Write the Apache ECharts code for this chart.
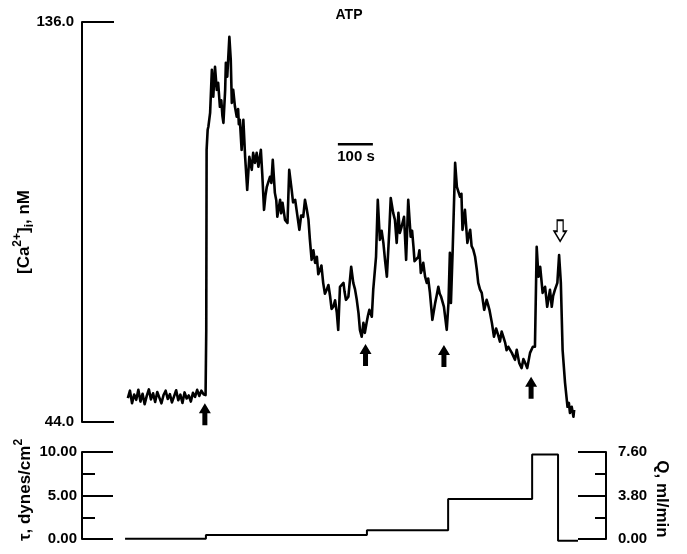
<!DOCTYPE html>
<html>
<head>
<meta charset="utf-8">
<script src="https://cdn.jsdelivr.net/npm/echarts@6/dist/echarts.min.js"></script>
<style>
html,body{margin:0;padding:0;background:#fff;}
#chart{width:687px;height:554px;}
</style>
</head>
<body>
<div id="chart"></div>
<script>
// Time in seconds (scale bar = 100 s), [Ca2+]i in nM
const caTimes = [131,137,143,149,155,161,167,173,179,185,191,197,203,209,215,221,227,233,239,245,251,257,263,269,275,281,287,293,299,305,311,317,323,329,335,341,347,
353,355,356,359,361,366,371,375,380,385,394,404,409,411,415,421,425,428,432,437,442,451,456,461,466,472,478,485,489,494,499,504,511,520,528,537,545,551,558,566,573,580,587,592,599,609,613,621,632,637,647,656,666,671,680,689,699,709,718,728,732,737,747,754,761,769,775,785,794,799,804,813,821,828,832,840,845,851,861,871,878,882,889,894,899,904,913,920,926,932,939,947,954,961,968,975,985,994,1001,1009,1018,1026,1034,1042,1047,1051,1054,1059,1066,1071,1080,1087,1094,1101,1109,1118,1123,1128,1132,1142,1149,1156,1164,1171,1177,1189,1199,1209,1218,1228,1237,1242,1249,1256,1266,1272,1280,1288,1294,1299,1304,1309,1316,1323,1329,1337,1342,1351,1358,1363,1368,1373,1380,1387,1391,1394,1399,1404,1406];
const caValues = [49.5,51.2,48.3,50.3,49.1,51.4,48.7,50.5,48.1,50.0,51.5,49.2,50.6,48.6,50.9,49.6,48.3,50.2,51.2,49.3,50.4,48.5,49.9,51.3,49.0,50.3,48.4,50.8,49.4,50.1,48.7,50.7,49.8,51.4,50.0,51.2,50.4,
50.2,65.2,106.6,111.2,111.9,115.1,125.0,118.8,125.7,120.4,116.5,112.8,120.4,126.6,123.4,132.6,127.3,117.4,120.4,116.5,114.2,113.5,106.6,113.5,105.0,97.4,105.0,102.0,105.9,103.6,105.9,102.7,106.6,92.8,98.1,100.4,104.3,96.7,91.2,95.1,94.4,90.5,89.8,102.0,97.4,95.1,95.1,88.2,91.2,95.1,90.5,81.3,80.6,82.0,79.0,76.0,74.4,72.8,70.5,69.1,65.2,75.1,76.0,72.1,72.8,79.7,76.0,72.1,65.2,63.6,66.8,66.8,69.8,68.2,74.4,82.0,95.1,85.9,85.2,77.4,88.2,95.5,92.1,90.5,85.2,92.1,88.9,91.2,81.3,95.1,86.6,84.3,80.6,82.0,78.3,80.6,76.0,73.7,67.5,71.4,75.1,72.8,70.5,65.2,71.4,82.9,71.4,83.6,103.6,98.1,95.8,88.2,92.8,85.2,88.2,83.6,82.0,79.0,76.0,73.7,69.8,72.1,69.8,66.8,63.6,64.0,64.8,62.2,61.3,59.9,58.3,60.6,57.6,56.4,57.6,56.4,59.9,61.3,61.3,84.3,77.4,79.7,73.7,75.1,70.5,74.4,70.5,74.4,76.0,82.4,76.0,60.6,53.0,47.5,48.4,46.1,47.5,45.2,46.8];
// Extra readings of the fine jitter along the trace [time, value]
const caJitter = [[389,122.0],[398,118.0],[401,114.5],[446,116.0],[448,112.5],[515,101.0],[524,96.0],[541,99.0],[555,95.0],[569,92.0],[603,94.5],[626,91.5],[642,93.0],[651,86.0],[661,83.5],[675,78.0],[684,80.0],[694,73.5],[704,75.5],[713,70.0],[723,72.0],[750,74.0],[780,74.5],[790,69.0],[808,64.5],[817,68.5],[856,88.0],[866,81.0],[908,87.5],[943,88.0],[950,81.0],[964,83.5],[971,79.0],[980,77.5],[989,77.0],[1013,73.0],[1022,73.5],[1084,96.5],[1105,87.0],[1113,84.5],[1137,74.5],[1160,71.0],[1183,65.5],[1194,62.5],[1204,63.5],[1213,60.5],[1223,61.0],[1261,58.5],[1346,73.0]];

// Shear stress step protocol (dynes/cm2)
const tauTimes = [123, 354, 814, 1046, 1286, 1360, 1417];
const tauValues = [0.03, 0.45, 1.0, 4.6, 9.7, -0.2, -0.2];

// Arrow markers (ATP additions: filled; removal: open)
const upArrowTimes = [351, 810, 1034, 1283];
const upArrowValues = [45.8, 59.4, 59.2, 51.9];
const downArrowTimes = [1366];
const downArrowValues = [88.0];

// 100 s scale bar
const scaleBarTimes = [731, 831];
const scaleBarLevel = 107.9;

// Axis ranges / ticks
const caAxis = {min: 44, max: 136, interval: 92};
const tauAxis = {min: 0, max: 10, interval: 5};
const qAxis = {min: 0, max: 7.6, interval: 3.8};
const timeRange = {min: 0, max: 1497};

const zip = (a, b) => a.map((t, i) => [t, b[i]]);
const caData = zip(caTimes, caValues).concat(caJitter).sort((p, q) => p[0] - q[0]);
const FONT = 'Liberation Sans, Arial, sans-serif';
const labelStyle = {color: '#000', fontFamily: FONT, fontSize: 15, fontWeight: 'bold'};

const chart = echarts.init(document.getElementById('chart'), null, {renderer: 'canvas'});
chart.setOption({
  animation: false,
  backgroundColor: '#fff',
  grid: [
    {left: 82, top: 22, width: 524, height: 400},
    {left: 82, top: 452, width: 524, height: 87}
  ],
  xAxis: [
    {gridIndex: 0, type: 'value', min: timeRange.min, max: timeRange.max, show: false},
    {gridIndex: 1, type: 'value', min: timeRange.min, max: timeRange.max, show: false}
  ],
  yAxis: [
    {
      gridIndex: 0, type: 'value', min: caAxis.min, max: caAxis.max, interval: caAxis.interval,
      axisLine: {show: true, onZero: false, lineStyle: {color: '#000', width: 2}},
      axisTick: {show: true, inside: true, length: 32, lineStyle: {color: '#000', width: 2}},
      axisLabel: Object.assign({margin: 8, formatter: v => v.toFixed(1)}, labelStyle),
      splitLine: {show: false}
    },
    {
      gridIndex: 1, type: 'value', min: tauAxis.min, max: tauAxis.max, interval: tauAxis.interval,
      axisLine: {show: true, onZero: false, lineStyle: {color: '#000', width: 2}},
      axisTick: {show: true, inside: true, length: 31, lineStyle: {color: '#000', width: 2}},
      minorTick: {show: true, splitNumber: 2, length: 13, lineStyle: {color: '#000', width: 2}},
      axisLabel: Object.assign({margin: 5, formatter: v => v.toFixed(2)}, labelStyle),
      splitLine: {show: false}, minorSplitLine: {show: false}
    },
    {
      gridIndex: 1, type: 'value', position: 'right', min: qAxis.min, max: qAxis.max, interval: qAxis.interval,
      axisLine: {show: true, onZero: false, lineStyle: {color: '#000', width: 2}},
      axisTick: {show: true, inside: true, length: 28, lineStyle: {color: '#000', width: 2}},
      minorTick: {show: true, splitNumber: 2, length: 11, lineStyle: {color: '#000', width: 2}},
      axisLabel: Object.assign({margin: 12, formatter: v => v.toFixed(2)}, labelStyle),
      splitLine: {show: false}, minorSplitLine: {show: false}
    }
  ],
  series: [
    {
      type: 'line', xAxisIndex: 0, yAxisIndex: 0, data: caData,
      showSymbol: false, clip: false,
      lineStyle: {color: '#000', width: 2.6, join: 'round'}
    },
    {
      type: 'line', xAxisIndex: 0, yAxisIndex: 0,
      data: scaleBarTimes.map(t => [t, scaleBarLevel]),
      showSymbol: false, lineStyle: {color: '#000', width: 2.5}
    },
    {
      type: 'scatter', xAxisIndex: 0, yAxisIndex: 0, data: zip(upArrowTimes, upArrowValues),
      symbol: 'path://M6,0 L12,10 L8.5,10 L8.5,22 L3.5,22 L3.5,10 L0,10 Z',
      symbolSize: [12, 22], itemStyle: {color: '#000', opacity: 1}, clip: false
    },
    {
      type: 'scatter', xAxisIndex: 0, yAxisIndex: 0, data: zip(downArrowTimes, downArrowValues),
      symbol: 'path://M3,0 L9,0 L9,11 L12,11 L6,21 L0,11 L3,11 Z',
      symbolSize: [12, 21], itemStyle: {color: '#fff', borderColor: '#000', borderWidth: 1.6, opacity: 1}, clip: false
    },
    {
      type: 'line', xAxisIndex: 1, yAxisIndex: 1, data: zip(tauTimes, tauValues),
      step: 'end', showSymbol: false, clip: false,
      lineStyle: {color: '#000', width: 2}
    }
  ],
  graphic: [
    {type: 'text', x: 349, y: 15, style: {text: 'ATP', fill: '#000', font: 'bold 14px ' + FONT, align: 'center', verticalAlign: 'middle'}},
    {type: 'text', x: 356, y: 157, style: {text: '100 s', fill: '#000', font: 'bold 15px ' + FONT, align: 'center', verticalAlign: 'middle'}},
    {type: 'text', x: 24, y: 232, rotation: Math.PI / 2,
      style: {text: '[Ca{sup|2+}]{sub|i}, nM', fill: '#000', font: 'bold 17px ' + FONT, align: 'center', verticalAlign: 'middle', lineHeight: 24,
        rich: {sup: {fontSize: 12, fontWeight: 'bold', fontFamily: FONT, verticalAlign: 'top', lineHeight: 12}, sub: {fontSize: 12, fontWeight: 'bold', fontFamily: FONT, verticalAlign: 'bottom', lineHeight: 12}}}},
    {type: 'text', x: 25, y: 490, rotation: Math.PI / 2,
      style: {text: 'τ, dynes/cm{sup|2}', fill: '#000', font: 'bold 17px ' + FONT, align: 'center', verticalAlign: 'middle', lineHeight: 24,
        rich: {sup: {fontSize: 12, fontWeight: 'bold', fontFamily: FONT, verticalAlign: 'top', lineHeight: 12}}}},
    {type: 'text', x: 662, y: 499, rotation: -Math.PI / 2,
      style: {text: 'Q, ml/min', fill: '#000', font: 'bold 17px ' + FONT, align: 'center', verticalAlign: 'middle'}}
  ]
});
</script>
</body>
</html>
